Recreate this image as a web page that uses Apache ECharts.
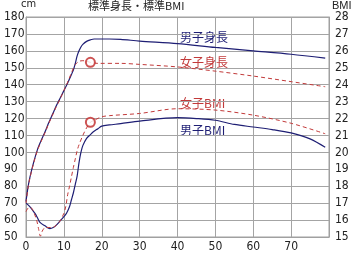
<!DOCTYPE html>
<html>
<head>
<meta charset="utf-8">
<script src="https://cdn.jsdelivr.net/npm/echarts@6/dist/echarts.min.js"></script>
<style>
  html, body { margin: 0; padding: 0; background: #fff; }
  #chart { width: 353px; height: 257px; }
</style>
</head>
<body>
<div id="chart"></div>
<script>
// 年齢 [歳, 値]
var maleHeight = [
  [0, 71], [0.5, 79], [1, 85], [2, 94], [3, 101.5], [4, 107], [5, 112], [6, 117.5],
  [7, 122.5], [8, 127.5], [9, 132], [10, 136.5], [11, 141], [12, 146], [12.5, 148.7],
  [13, 152.5], [13.5, 157], [14, 160], [14.5, 162.3], [15, 163.8], [16, 165.6],
  [17, 166.5], [18, 167], [22, 167], [25, 166.8], [30, 165.8], [40, 164.3],
  [50, 162], [60, 160], [70, 158], [79, 155.7]
];
var femaleHeight = [
  [0, 70], [0.5, 78.5], [1, 84.5], [2, 93.5], [3, 101], [4, 106.5], [5, 111.5],
  [6, 117], [7, 122], [8, 127], [9, 131.5], [10, 136.5], [11, 141.5], [12, 147],
  [12.5, 149.7], [13, 151.8], [14, 153.8], [15, 154.2], [16, 153.8], [17, 153.2],
  [19, 152.6], [25, 152.6], [30, 152], [40, 150.5], [50, 148], [60, 145.1],
  [70, 141.8], [79, 138.8]
];
var maleBMI = [
  [0, 17.0], [1, 16.8], [2, 16.5], [2.5, 16.35], [3, 16.15], [3.7, 15.86], [5, 15.66],
  [6.3, 15.5], [7.2, 15.56], [8, 15.7], [9, 15.95], [10, 16.2], [10.7, 16.4],
  [11.5, 16.8], [12, 17.2], [12.5, 17.6], [13, 18.1], [13.5, 18.6], [14, 19.4],
  [14.5, 20.0], [15, 20.4], [16, 20.83], [17, 21.05], [17.7, 21.2], [19, 21.4],
  [20, 21.55], [22, 21.62], [25, 21.7], [30, 21.85], [40, 22.05], [45, 22.0],
  [50, 21.9], [55, 21.65], [60, 21.5], [65, 21.35], [70, 21.15], [75, 20.8], [79, 20.3]
];
var femaleBMI = [
  [0, 16.5], [0.8, 16.75], [1.5, 16.7], [2, 16.5], [2.8, 16.0], [3.3, 15.5],
  [3.8, 15.05], [4.3, 15.35], [5, 15.55], [6, 15.56], [7, 15.56], [8, 15.7], [9, 15.95],
  [10, 16.4], [10.5, 16.8], [11, 17.5], [11.5, 18.0], [12, 18.56], [12.5, 19.1],
  [13, 19.6], [13.5, 20.1], [14, 20.45], [15, 21.0], [16, 21.45], [17, 21.78],
  [18, 21.9], [20, 22.1], [22, 22.17], [30, 22.3], [40, 22.58], [50, 22.5],
  [60, 22.2], [70, 21.72], [79, 21.1]
];
// 17歳の丸印
var markHeight = [[17, 153.2]];
var markBMI = [[17, 21.78]];

var xTicks = [0, 10, 20, 30, 40, 50, 60, 70];

var navy = '#1e1e74';
var red = '#c23a3a';
var numFont = '"Liberation Sans Narrow", "DejaVu Sans Condensed", "Liberation Sans", sans-serif';
var jpFont = '"Noto Sans CJK JP", sans-serif';

var chart = echarts.init(document.getElementById('chart'));
chart.setOption({
  animation: false,
  backgroundColor: '#fff',
  grid: { left: 26, right: 24, top: 17, bottom: 20 },
  xAxis: {
    type: 'value', min: 0, max: 80, interval: 10,
    axisLine: { show: true, lineStyle: { color: '#a0a0a0' } },
    axisTick: { show: false },
    splitLine: { show: true, lineStyle: { color: '#a4a4a4' } },
    axisLabel: {
      color: '#222', fontSize: 12, fontFamily: numFont, margin: 4,
      formatter: function (v) { return xTicks.indexOf(v) >= 0 ? String(v) : ''; }
    }
  },
  yAxis: [
    {
      type: 'value', min: 50, max: 180, interval: 10,
      axisLine: { show: true, lineStyle: { color: '#a0a0a0' } },
      axisTick: { show: false },
      splitLine: { show: true, lineStyle: { color: '#a4a4a4' } },
      axisLabel: { color: '#222', fontSize: 12, fontFamily: numFont, margin: 22, align: 'left' }
    },
    {
      type: 'value', min: 15, max: 28, interval: 1, position: 'right',
      axisLine: { show: true, lineStyle: { color: '#a0a0a0' } },
      axisTick: { show: false },
      splitLine: { show: false },
      axisLabel: { color: '#222', fontSize: 12, fontFamily: numFont, margin: 6 }
    }
  ],
  graphic: [
    { type: 'rect', shape: { x: 26, y: 17, width: 303, height: 220 }, style: { fill: 'none', stroke: '#a0a0a0', lineWidth: 1 }, silent: true },
    { type: 'text', left: 88, top: 0, style: { text: '標準身長・標準BMI', font: '11px ' + jpFont, fill: '#222' } },
    { type: 'text', left: 21, top: -1, style: { text: 'cm', font: '11px ' + numFont, fill: '#222' } },
    { type: 'text', left: 332, top: 0, style: { text: 'BMI', font: '11px "Liberation Sans", sans-serif', fill: '#222' } },
    { type: 'text', left: 180, top: 31, style: { text: '男子身長', font: '12px ' + jpFont, fill: navy } },
    { type: 'text', left: 180, top: 56, style: { text: '女子身長', font: '12px ' + jpFont, fill: red } },
    { type: 'text', left: 180, top: 97, style: { text: '女子BMI', font: '12px ' + jpFont, fill: red } },
    { type: 'text', left: 180, top: 124, style: { text: '男子BMI', font: '12px ' + jpFont, fill: navy } }
  ],
  series: [
    {
      name: '男子身長', type: 'line', data: maleHeight, yAxisIndex: 0, smooth: 0.3,
      showSymbol: false, lineStyle: { color: navy, width: 1.2 }, z: 2
    },
    {
      name: '男子BMI', type: 'line', data: maleBMI, yAxisIndex: 1, smooth: 0.3,
      showSymbol: false, lineStyle: { color: navy, width: 1.2 }, z: 2
    },
    {
      name: '女子身長', type: 'line', data: femaleHeight, yAxisIndex: 0, smooth: 0.3,
      showSymbol: false, lineStyle: { color: red, width: 1, type: [4, 3] }, z: 3
    },
    {
      name: '女子BMI', type: 'line', data: femaleBMI, yAxisIndex: 1, smooth: 0.3,
      showSymbol: false, lineStyle: { color: red, width: 1, type: [4, 3] }, z: 3
    },
    {
      type: 'scatter', data: markHeight, yAxisIndex: 0, symbol: 'circle', symbolSize: 9,
      itemStyle: { color: '#fff', borderColor: '#c02828', borderWidth: 2 }, z: 4
    },
    {
      type: 'scatter', data: markBMI, yAxisIndex: 1, symbol: 'circle', symbolSize: 9,
      itemStyle: { color: '#fff', borderColor: '#c02828', borderWidth: 2 }, z: 4
    }
  ]
});
</script>
</body>
</html>
